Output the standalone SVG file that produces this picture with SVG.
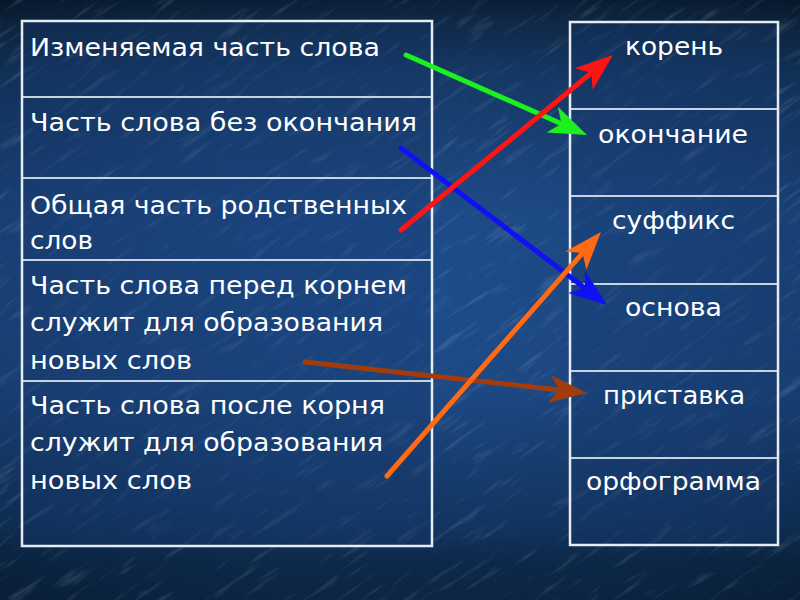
<svg xmlns="http://www.w3.org/2000/svg" width="800" height="600" viewBox="0 0 800 600">
  <defs>
    <linearGradient id="bgV" x1="0" y1="0" x2="0" y2="1">
      <stop offset="0" stop-color="#091a2e"/>
      <stop offset="0.04" stop-color="#0e2946"/>
      <stop offset="0.12" stop-color="#143a68"/>
      <stop offset="0.35" stop-color="#1c4a88"/>
      <stop offset="0.65" stop-color="#1b4884"/>
      <stop offset="0.88" stop-color="#10345f"/>
      <stop offset="0.94" stop-color="#0a2745"/>
      <stop offset="1" stop-color="#0a2442"/>
    </linearGradient>
    <radialGradient id="bgR" cx="0.5" cy="0.5" r="0.7">
      <stop offset="0" stop-color="#2a5aa0" stop-opacity="0.2"/>
      <stop offset="1" stop-color="#061426" stop-opacity="0.35"/>
    </radialGradient>
    <filter id="tex" filterUnits="userSpaceOnUse" x="-300" y="-300" width="1400" height="1200">
      <feTurbulence type="fractalNoise" baseFrequency="0.02 0.15" numOctaves="3" seed="7" result="n"/>
      <feColorMatrix in="n" type="matrix" values="0 0 0 0 0.75  0 0 0 0 0.85  0 0 0 0 1  0 0 0 1.6 -0.95"/>
    </filter>
    <marker id="mGreen" viewBox="-12 -16 42 32" markerWidth="42" markerHeight="32" refX="0" refY="0" orient="auto" markerUnits="userSpaceOnUse">
      <path d="M28,0 L-10,-14 L0,0 L-10,14 Z" fill="#1ef01e"/>
    </marker>
    <marker id="mRed" viewBox="-12 -16 42 32" markerWidth="42" markerHeight="32" refX="0" refY="0" orient="auto" markerUnits="userSpaceOnUse">
      <path d="M28,0 L-10,-14 L0,0 L-10,14 Z" fill="#ff1414"/>
    </marker>
    <marker id="mBlue" viewBox="-12 -16 42 32" markerWidth="42" markerHeight="32" refX="0" refY="0" orient="auto" markerUnits="userSpaceOnUse">
      <path d="M28,0 L-10,-14 L0,0 L-10,14 Z" fill="#1010f5"/>
    </marker>
    <marker id="mOrange" viewBox="-12 -16 42 32" markerWidth="42" markerHeight="32" refX="0" refY="0" orient="auto" markerUnits="userSpaceOnUse">
      <path d="M28,0 L-10,-14 L0,0 L-10,14 Z" fill="#ff6a12"/>
    </marker>
    <marker id="mBrown" viewBox="-12 -16 42 32" markerWidth="42" markerHeight="32" refX="0" refY="0" orient="auto" markerUnits="userSpaceOnUse">
      <path d="M28,0 L-10,-14 L0,0 L-10,14 Z" fill="#a23c0c"/>
    </marker>
  </defs>
  <style>
    .tbl { fill: none; stroke: #e6ecf2; stroke-width: 2.5; }
    .sep { stroke: #c9d3df; stroke-width: 2; }
    .cellbg { fill: #163a6e; fill-opacity: 0.35; }
    text { font-family: "DejaVu Sans", "Liberation Sans", sans-serif; font-size: 24px; fill: #ffffff; }
    .arr { fill: none; stroke-width: 5; stroke-linecap: round; }
  </style>

  <!-- background -->
  <rect x="0" y="0" width="800" height="600" fill="url(#bgV)"/>
  <rect x="0" y="0" width="800" height="600" fill="url(#bgR)"/>
  <g transform="rotate(-35 400 300)">
    <rect x="-300" y="-300" width="1400" height="1200" filter="url(#tex)" opacity="0.3"/>
  </g>

  <!-- left table -->
  <g id="leftTable">
    <rect class="cellbg" x="22" y="21" width="410" height="525"/>
    <g id="l1">
      <text x="30" y="56" textLength="350" lengthAdjust="spacingAndGlyphs">Изменяемая часть слова</text>
    </g>
    <g id="l2">
      <line class="sep" x1="22" y1="97" x2="432" y2="97"/>
      <text x="30" y="131" textLength="387" lengthAdjust="spacingAndGlyphs">Часть слова без окончания</text>
    </g>
    <g id="l3">
      <line class="sep" x1="22" y1="178" x2="432" y2="178"/>
      <text x="30" y="214" textLength="377" lengthAdjust="spacingAndGlyphs">Общая часть родственных</text>
      <text x="30" y="249" textLength="63" lengthAdjust="spacingAndGlyphs">слов</text>
    </g>
    <g id="l4">
      <line class="sep" x1="22" y1="260" x2="432" y2="260"/>
      <text x="30" y="294" textLength="377" lengthAdjust="spacingAndGlyphs">Часть слова перед корнем</text>
      <text x="30" y="331" textLength="353" lengthAdjust="spacingAndGlyphs">служит для образования</text>
      <text x="30" y="369" textLength="162" lengthAdjust="spacingAndGlyphs">новых слов</text>
    </g>
    <g id="l5">
      <line class="sep" x1="22" y1="381" x2="432" y2="381"/>
      <text x="30" y="414" textLength="355" lengthAdjust="spacingAndGlyphs">Часть слова после корня</text>
      <text x="30" y="451" textLength="353" lengthAdjust="spacingAndGlyphs">служит для образования</text>
      <text x="30" y="489" textLength="162" lengthAdjust="spacingAndGlyphs">новых слов</text>
    </g>
    <rect class="tbl" x="22" y="21" width="410" height="525"/>
  </g>

  <!-- right table -->
  <g id="rightTable">
    <rect class="cellbg" x="570" y="22" width="208" height="523"/>
    <g id="r1">
      <text x="625" y="55" textLength="98" lengthAdjust="spacingAndGlyphs">корень</text>
    </g>
    <g id="r2">
      <line class="sep" x1="570" y1="109" x2="778" y2="109"/>
      <text x="598" y="143" textLength="150" lengthAdjust="spacingAndGlyphs">окончание</text>
    </g>
    <g id="r3">
      <line class="sep" x1="570" y1="196" x2="778" y2="196"/>
      <text x="612" y="229" textLength="123" lengthAdjust="spacingAndGlyphs">суффикс</text>
    </g>
    <g id="r4">
      <line class="sep" x1="570" y1="284" x2="778" y2="284"/>
      <text x="625" y="316" textLength="97" lengthAdjust="spacingAndGlyphs">основа</text>
    </g>
    <g id="r5">
      <line class="sep" x1="570" y1="371" x2="778" y2="371"/>
      <text x="603" y="404" textLength="142" lengthAdjust="spacingAndGlyphs">приставка</text>
    </g>
    <g id="r6">
      <line class="sep" x1="570" y1="458" x2="778" y2="458"/>
      <text x="586" y="490" textLength="175" lengthAdjust="spacingAndGlyphs">орфограмма</text>
    </g>
    <rect class="tbl" x="570" y="22" width="208" height="523"/>
  </g>

  <!-- connectors -->
  <g id="connectors">
    <line class="arr" x1="406" y1="55" x2="561.4" y2="123.7" stroke="#1ef01e" marker-end="url(#mGreen)"/>
    <line class="arr" x1="401" y1="148" x2="584.7" y2="288" stroke="#1010f5" marker-end="url(#mBlue)"/>
    <line class="arr" x1="305" y1="362" x2="559.2" y2="389.9" stroke="#a23c0c" marker-end="url(#mBrown)"/>
    <line class="arr" x1="401" y1="230" x2="591.4" y2="72.8" stroke="#ff1414" marker-end="url(#mRed)"/>
    <line class="arr" x1="387" y1="476" x2="582.5" y2="253.1" stroke="#ff6a12" stroke-width="4.5" marker-end="url(#mOrange)"/>
  </g>
</svg>
